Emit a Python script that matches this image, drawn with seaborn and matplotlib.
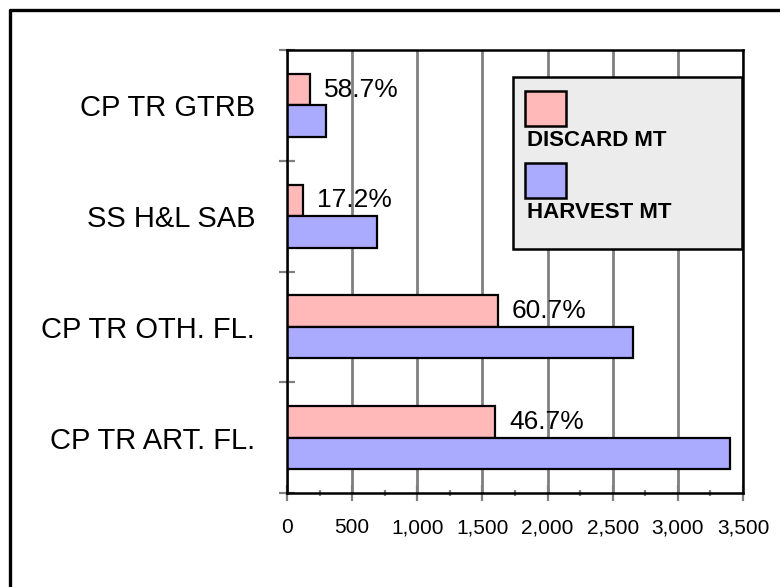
import matplotlib
matplotlib.use("Agg")
import matplotlib.pyplot as plt
import matplotlib.ticker as mticker
from matplotlib.patches import Rectangle
from matplotlib.lines import Line2D
import seaborn as sns
import pandas as pd

# data
categories = ["CP TR GTRB", "SS H&L SAB", "CP TR OTH. FL.", "CP TR ART. FL."]
discard_mt = [175, 125, 1620, 1600]
harvest_mt = [297, 688, 2653, 3400]
pct_labels = ["58.7%", "17.2%", "60.7%", "46.7%"]
series_names = ["DISCARD MT", "HARVEST MT"]
x_ticks = [0, 500, 1000, 1500, 2000, 2500, 3000, 3500]

df = pd.DataFrame({
    "category": categories * 2,
    "series": [series_names[0]] * len(categories) + [series_names[1]] * len(categories),
    "mt": discard_mt + harvest_mt,
})

pink = "#ffb9b9"
blue = "#aaaaff"
grey = "#808080"

sns.set_theme(style="white")
plt.rcParams["font.family"] = ["Liberation Sans", "DejaVu Sans"]
plt.rcParams["text.color"] = "black"
plt.rcParams["xtick.color"] = "black"
plt.rcParams["ytick.color"] = "black"
plt.rcParams["xtick.labelsize"] = 15
plt.rcParams["ytick.labelsize"] = 21

W, H = 780, 587
fig = plt.figure(figsize=(W / 100, H / 100), dpi=100)
ax = fig.add_axes([287 / W, 1 - 493 / H, (743 - 287) / W, (493 - 50) / H])

sns.barplot(data=df, x="mt", y="category", hue="series", order=categories,
            hue_order=series_names, orient="h", width=0.57, dodge=True,
            palette=[pink, blue], saturation=1, edgecolor="black",
            linewidth=1.6, legend=False, ax=ax)

ax.set_xlim(0, 3500)
ax.set_ylim(3.5, -0.5)
ax.set_xlabel("")
ax.set_ylabel("")

# x axis
ax.set_xticks(x_ticks)
ax.set_xticklabels([f"{v:,}" for v in x_ticks], fontsize=15, color="black")
ax.xaxis.set_minor_locator(mticker.MultipleLocator(250))
ax.tick_params(axis="x", which="major", direction="inout", length=12, width=1.6,
               color=grey, pad=12, bottom=True)
ax.tick_params(axis="x", which="minor", direction="inout", length=5, width=1.6,
               color=grey, bottom=True)

# y axis: labels at the band centres, ticks at the band edges
ax.set_yticks(range(len(categories)))
ax.set_yticklabels(categories, fontsize=21, color="black")
ax.set_yticks([-0.5, 0.5, 1.5, 2.5, 3.5], minor=True)
ax.tick_params(axis="y", which="major", length=0, pad=23, left=True)
ax.tick_params(axis="y", which="minor", direction="inout", length=12, width=1.6,
               color=grey, left=True)

ax.grid(axis="x", color=grey, linewidth=2)
ax.set_axisbelow(True)
for s in ax.spines.values():
    s.set_visible(True)
    s.set_color("black")
    s.set_linewidth(1.8)

# percentage labels next to the discard bars
ax.bar_label(ax.containers[0], labels=pct_labels, padding=10, fontsize=19,
             color="black")

# legend box drawn like the original (label under each swatch)
def px(x, y):
    return x / W, 1 - y / H

fig.add_artist(Rectangle(px(513, 249), (742 - 513) / W, (249 - 77) / H,
                         transform=fig.transFigure, facecolor="#ececec",
                         edgecolor="black", linewidth=1.8, zorder=5))
for i, (name, col) in enumerate(zip(series_names, [pink, blue])):
    top = 91 + i * 72
    fig.add_artist(Rectangle(px(525, top + 35), 41 / W, 35 / H,
                             transform=fig.transFigure, facecolor=col,
                             edgecolor="black", linewidth=1.8, zorder=6))
    fig.text(*px(527, top + 55), name, fontsize=16, fontweight="bold",
             color="black", ha="left", va="baseline", zorder=7)

# outer chart frame (right and bottom edges fall outside the image)
fig.add_artist(Line2D([9.5 / W, 1.0], [1 - 9.5 / H, 1 - 9.5 / H],
                      transform=fig.transFigure, color="black", linewidth=2.4))
fig.add_artist(Line2D([9.5 / W, 9.5 / W], [0, 1 - 9.5 / H],
                      transform=fig.transFigure, color="black", linewidth=2.4))

fig.savefig("out.png", dpi=100, facecolor="white")
